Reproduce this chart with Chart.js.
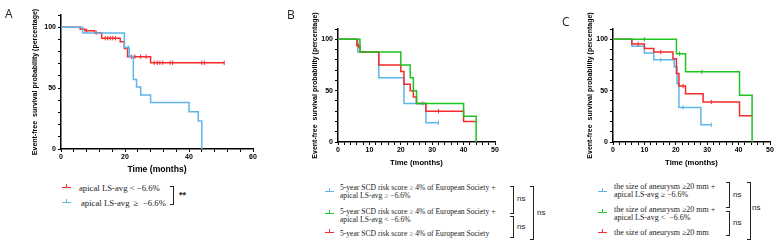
<!DOCTYPE html>
<html>
<head>
<meta charset="utf-8">
<script src="https://cdn.jsdelivr.net/npm/chart.js@4.4.1/dist/chart.umd.min.js"></script>
<style>
    body { margin: 0; background: #fff; }
    #page { position: relative; width: 779px; height: 246px; overflow: hidden; background: #fff; }
    canvas { position: absolute; top: 0; }
    .panel { position: absolute; font: 12px 'Open Sans', 'Liberation Sans', sans-serif; color: #222; }
    .mk { position: absolute; width: 9px; height: 0; border-top: 1.5px solid currentColor; }
    .mk::after { content: ''; position: absolute; left: 4px; top: -4px; width: 1px; height: 4px; background: currentColor; }
    .lg { position: absolute; font-family: 'Liberation Serif', 'DejaVu Serif', serif; color: #222; white-space: pre; }
    .br { position: absolute; border: 1.2px solid #222; border-left: none; width: 3px; }
    .ns { position: absolute; font: 8px 'Liberation Sans', sans-serif; color: #222; line-height: 8px; }
</style>
</head>
<body>
<div id="page">
    <canvas id="chart-a" width="262" height="177" style="left:0px"></canvas>
    <canvas id="chart-b" width="220" height="170" style="left:300px"></canvas>
    <canvas id="chart-c" width="204" height="170" style="left:575px"></canvas>

    <div class="panel" style="left:5px;top:5px">A</div>
    <div class="panel" style="left:287px;top:6px">B</div>
    <div class="panel" style="left:562px;top:13px">C</div>

    <!-- legend A -->
    <div class="mk" style="left:62px;top:187px;color:#f42b2b"></div>
    <div class="lg" style="left:79px;top:183px;font-size:8.7px;line-height:10px">apical LS-avg &lt; −6.6%</div>
    <div class="mk" style="left:62px;top:202px;color:#5fb5e8"></div>
    <div class="lg" style="left:81px;top:198px;font-size:8.7px;line-height:10px">apical LS-avg  ≥  −6.6%</div>
    <div class="br" style="left:170px;top:186px;height:17px"></div>
    <div class="ns" style="left:179px;top:191px;font-weight:bold;font-size:9px">**</div>

    <!-- legend B -->
    <div class="mk" style="left:325px;top:191px;color:#5fb5e8"></div>
    <div class="lg" style="left:340px;top:184px;font-size:7.6px;line-height:7.5px">5-year SCD risk score ≥ 4% of European Society +
apical LS-avg ≥ −6.6%</div>
    <div class="mk" style="left:325px;top:213px;color:#1ec31e"></div>
    <div class="lg" style="left:340px;top:208px;font-size:7.6px;line-height:7.5px">5-year SCD risk score ≥ 4% of European Society +
apical LS-avg &lt; −6.6%</div>
    <div class="mk" style="left:325px;top:232px;color:#f42b2b"></div>
    <div class="lg" style="left:340px;top:229.5px;font-size:7.6px;line-height:7.5px">5-year SCD risk score ≥ 4% of European Society</div>
    <div class="br" style="left:510px;top:186px;height:26px"></div>
    <div class="ns" style="left:517px;top:195px">ns</div>
    <div class="br" style="left:510px;top:216px;height:20px"></div>
    <div class="ns" style="left:517px;top:223px">ns</div>
    <div class="br" style="left:530px;top:186px;height:52px"></div>
    <div class="ns" style="left:537px;top:209px">ns</div>

    <!-- legend C -->
    <div class="mk" style="left:598px;top:191px;color:#5fb5e8"></div>
    <div class="lg" style="left:614px;top:183.3px;font-size:8px;line-height:8px">the size of aneurysm ≥20 mm +
apical LS-avg ≥ −6.6%</div>
    <div class="mk" style="left:598px;top:212px;color:#1ec31e"></div>
    <div class="lg" style="left:614px;top:205.5px;font-size:8px;line-height:8px">the size of aneurysm ≥20 mm +
apical LS-avg &lt;  −6.6%</div>
    <div class="mk" style="left:598px;top:232px;color:#f42b2b"></div>
    <div class="lg" style="left:614px;top:229.3px;font-size:8px;line-height:8px">the size of aneurysm ≥20 mm</div>
    <div class="br" style="left:726px;top:182px;height:24px"></div>
    <div class="ns" style="left:733px;top:191px">ns</div>
    <div class="br" style="left:726px;top:211px;height:23px"></div>
    <div class="ns" style="left:733px;top:219px">ns</div>
    <div class="br" style="left:747px;top:182px;height:56px"></div>
    <div class="ns" style="left:752px;top:204px">ns</div>
</div>

<script>
const red = '#f42b2b';
const blue = '#5fb5e8';
const green = '#1ec31e';

// Panel A: apical LS-avg
const aRedTime = [0, 6, 7.5, 10.5, 12.7, 18.5, 19.8, 20.8, 28, 51];
const aRedSurv = [100, 98.4, 97, 95.5, 91, 88, 82.5, 75.8, 70.8, 70.8];
const aRedCensor = [8, 11, 13.8, 14.6, 15.4, 16.2, 17, 22, 23.1, 24.9, 26.6, 29.1, 30.1, 30.9, 31.8, 34.1, 34.9, 44, 44.8, 51];

const aBlueTime = [0, 6.8, 19.8, 21.3, 22.6, 23.6, 24.9, 28, 40, 42.9, 44];
const aBlueSurv = [100, 95.2, 83.3, 76.2, 57.1, 50.8, 44.4, 38.1, 30.5, 22.9, 0];
const aBlueCensor = [21];

// Panel B: 5-year SCD risk score
const bBlueTime = [0, 6.3, 13, 21, 28, 32];
const bBlueSurv = [100, 87.5, 62.5, 37.5, 18.75, 18.75];
const bBlueCensor = [27, 32];

const bGreenTime = [0, 7, 20, 23, 24, 25, 40, 44];
const bGreenSurv = [100, 87.5, 75, 62.5, 50, 37.5, 25, 0];
const bGreenCensor = [];

const bRedTime = [0, 6, 7, 13, 20, 21, 23, 24, 25, 28, 40, 44];
const bRedSurv = [100, 93.75, 87.5, 75, 68.75, 56.25, 50, 43.75, 37.5, 30, 20, 20];
const bRedCensor = [6.5, 32];

// Panel C: size of aneurysm
const cBlueTime = [0, 6, 10, 13, 19.5, 20.4, 21, 28, 31.3];
const cBlueSurv = [100, 93.3, 86.7, 80, 73.3, 56.7, 33.7, 16.8, 16.8];
const cBlueCensor = [15.2, 22.3, 31.3];

const cGreenTime = [0, 20.2, 23.1, 40.3, 44.3];
const cGreenSurv = [100, 86, 68.3, 45.6, 0];
const cGreenCensor = [10, 21.2, 28.3];

const cRedTime = [0, 6, 10, 13, 19.1, 20.2, 21, 23.1, 28.7, 40.3, 44.3];
const cRedSurv = [100, 95.5, 91, 87.7, 81, 66.7, 54.5, 47, 39, 25.6, 25.6];
const cRedCensor = [8, 15.2, 22.3, 31.3];

const yTitle = 'Event-free  survival probability (percentage)';
const xTitle = 'Time (months)';
const fontFamily = "'Liberation Sans', Arial, sans-serif";

// survival value at time t (step function)
function survAt(times, surv, t) {
    let val = surv[0];
    times.forEach((tm, i) => {
        if (tm <= t) val = surv[i];
    });
    return val;
}

function curve(times, surv, color) {
    return {
        data: times.map((t, i) => ({ x: t, y: surv[i] })),
        borderColor: color,
        borderWidth: 1.5,
        stepped: 'before',
        pointRadius: 0,
        fill: false
    };
}

function censor(times, surv, marks, color) {
    return {
        data: marks.map(t => ({ x: t, y: survAt(times, surv, t) })),
        borderColor: color,
        backgroundColor: color,
        showLine: false,
        pointStyle: 'line',
        rotation: 90,
        pointRadius: 2.2,
        borderWidth: 1
    };
}

function renderKmChart(id, datasets, cfg) {
    const tickFont = { family: fontFamily, size: 7, weight: 'bold' };

    return new Chart(document.getElementById(id), {
        type: 'line',
        data: { datasets: datasets },
        options: {
            responsive: false,
            animation: false,
            devicePixelRatio: 1,
            layout: { padding: cfg.padding },
            plugins: { legend: { display: false }, tooltip: { enabled: false } },
            scales: {
                x: {
                    type: 'linear',
                    min: 0,
                    max: cfg.xMax,
                    afterFit: s => { s.height = 26; },
                    border: { color: '#000', width: 1.5 },
                    grid: { drawOnChartArea: false, tickLength: 3, color: '#000' },
                    ticks: {
                        stepSize: cfg.xStep,
                        autoSkip: false,
                        maxRotation: 0,
                        padding: 1,
                        color: '#000',
                        font: tickFont,
                        callback: v => (v % cfg.xLabel === 0 ? v : '')
                    },
                    title: {
                        display: true,
                        text: xTitle,
                        color: '#000',
                        padding: 0,
                        font: { family: fontFamily, size: cfg.xTitleSize, weight: 'bold' }
                    }
                },
                y: {
                    min: 0,
                    max: 110,
                    afterFit: s => { s.width = cfg.yWidth; },
                    border: { color: '#000', width: 1.5 },
                    grid: { drawOnChartArea: false, tickLength: 3, color: '#000' },
                    ticks: {
                        stepSize: 10,
                        autoSkip: false,
                        padding: 2,
                        color: '#000',
                        font: tickFont,
                        callback: v => (v % 50 === 0 && v <= 100 ? v : '')
                    },
                    title: {
                        display: true,
                        text: yTitle,
                        color: '#000',
                        padding: 0,
                        font: { family: fontFamily, size: 7, weight: 'bold' }
                    }
                }
            }
        }
    });
}

renderKmChart('chart-a', [
    curve(aBlueTime, aBlueSurv, blue),
    censor(aBlueTime, aBlueSurv, aBlueCensor, blue),
    curve(aRedTime, aRedSurv, red),
    censor(aRedTime, aRedSurv, aRedCensor, red)
], { xMax: 60, xStep: 4, xLabel: 20, xTitleSize: 8.6, yWidth: 30, padding: { left: 31, top: 15, right: 9, bottom: 2 } });

renderKmChart('chart-b', [
    curve(bGreenTime, bGreenSurv, green),
    censor(bGreenTime, bGreenSurv, bGreenCensor, green),
    curve(bRedTime, bRedSurv, red),
    censor(bRedTime, bRedSurv, bRedCensor, red),
    curve(bBlueTime, bBlueSurv, blue),
    censor(bBlueTime, bBlueSurv, bBlueCensor, blue)
], { xMax: 50, xStep: 2, xLabel: 10, xTitleSize: 7.7, yWidth: 27, padding: { left: 11, top: 29, right: 25, bottom: 2 } });

renderKmChart('chart-c', [
    curve(cGreenTime, cGreenSurv, green),
    censor(cGreenTime, cGreenSurv, cGreenCensor, green),
    curve(cRedTime, cRedSurv, red),
    censor(cRedTime, cRedSurv, cRedCensor, red),
    curve(cBlueTime, cBlueSurv, blue),
    censor(cBlueTime, cBlueSurv, cBlueCensor, blue)
], { xMax: 50, xStep: 2, xLabel: 10, xTitleSize: 7.7, yWidth: 27, padding: { left: 11, top: 29, right: 9, bottom: 2 } });
</script>
</body>
</html>
